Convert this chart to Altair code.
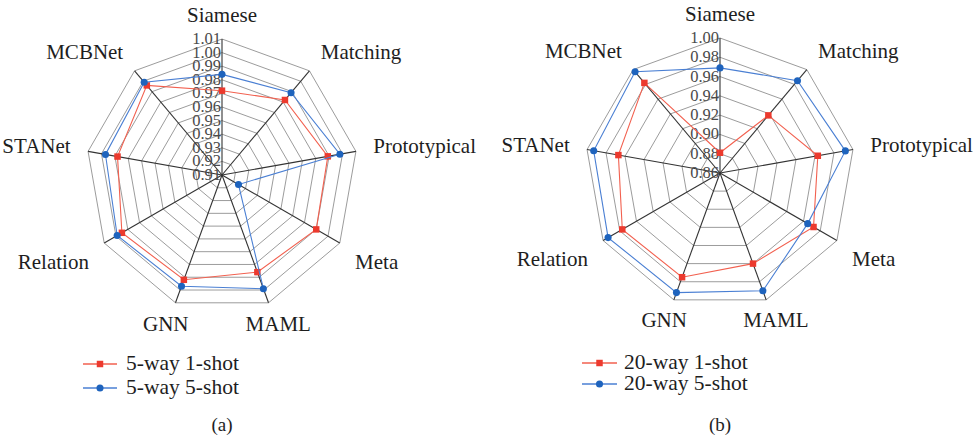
import altair as alt
import pandas as pd

categories = ["Siamese", "Matching", "Prototypical", "Meta", "MAML",
              "GNN", "Relation", "STANet", "MCBNet"]

# (a) 5-way accuracy
a_series = ["5-way 1-shot", "5-way 5-shot"]
a_1shot = [0.972, 0.982, 0.989, 0.990, 0.986, 0.992, 0.995, 0.988, 0.996]
a_5shot = [0.984, 0.989, 0.998, 0.924, 0.999, 0.997, 0.999, 0.997, 0.999]
a_ticks = [0.91, 0.92, 0.93, 0.94, 0.95, 0.96, 0.97, 0.98, 0.99, 1.00, 1.01]

# (b) 20-way accuracy
b_series = ["20-way 1-shot", "20-way 5-shot"]
b_1shot = [0.881, 0.938, 0.963, 0.972, 0.960, 0.975, 0.977, 0.967, 0.982]
b_5shot = [0.969, 0.985, 0.992, 0.965, 0.990, 0.992, 0.994, 0.993, 0.997]
b_ticks = [0.86, 0.88, 0.90, 0.92, 0.94, 0.96, 0.98, 1.00]

FONT = "'Liberation Serif', 'Times New Roman', serif"
RED, RED_LINE = "#EC3A2E", "#F2604F"
BLUE, BLUE_LINE = "#1E63BD", "#4A7FD3"
N = len(categories)


def polar(chart, lo, hi):
    """Turn (idx, value) into x/y in units of the outer ring."""
    return chart.transform_calculate(
        ang=f"datum.idx * 2 * PI / {N}",
        r=f"(datum.value - {lo}) / ({hi} - {lo})",
    ).transform_calculate(
        px="datum.r * sin(datum.ang)",
        py="datum.r * cos(datum.ang)",
    )


def radar(ticks, s1, s2, names, caption, cx, cy, R, leg):
    W, H = 490, 443
    lo, hi = ticks[0], ticks[-1]
    xs = alt.Scale(domain=[-cx / R, (W - cx) / R], nice=False, zero=False)
    ys = alt.Scale(domain=[-(H - cy) / R, cy / R], nice=False, zero=False)
    X = alt.X("px:Q", scale=xs, axis=None)
    Y = alt.Y("py:Q", scale=ys, axis=None)

    # concentric nonagon rings, one per tick level
    ring_rows = [{"ring": k, "idx": j, "value": ticks[k]}
                 for k in range(1, len(ticks)) for j in range(N + 1)]
    rings = polar(alt.Chart(pd.DataFrame(ring_rows)).mark_line(
        color="#9C9C9C", strokeWidth=1), lo, hi).encode(
        x=X, y=Y, detail="ring:N", order="idx:Q")

    # spokes from the centre to each outer vertex
    spoke_rows = [{"idx": j, "value": hi} for j in range(N)]
    spokes = polar(alt.Chart(pd.DataFrame(spoke_rows)).mark_rule(
        color="#333333", strokeWidth=1.1), lo, hi).transform_calculate(
        zero="0").encode(
        x=alt.X("zero:Q", scale=xs, axis=None),
        y=alt.Y("zero:Q", scale=ys, axis=None),
        x2="px:Q", y2="py:Q")

    # radial tick labels along the first axis
    tick_df = pd.DataFrame({"idx": 0, "value": ticks,
                            "label": [f"{t:.2f}" for t in ticks]})
    tick_text = polar(alt.Chart(tick_df).mark_text(
        align="right", baseline="middle", dx=-1, font=FONT, fontSize=16.5,
        color="#4A4A4A"), lo, hi).encode(x=X, y=Y, text="label:N")

    # category labels around the outside
    cat_df = pd.DataFrame({"idx": range(N), "category": categories})
    cat_layers = []
    for cond, align in [("sin(datum.ang) > 0.2 && cos(datum.ang) > -0.9", "left"),
                        ("sin(datum.ang) < -0.2 && cos(datum.ang) > -0.9", "right"),
                        ("abs(sin(datum.ang)) <= 0.2 || cos(datum.ang) <= -0.9", "center")]:
        layer = alt.Chart(cat_df).transform_calculate(
            ang=f"datum.idx * 2 * PI / {N}"
        ).transform_calculate(
            px="1.13 * sin(datum.ang) + (cos(datum.ang) < -0.9 ? 0.08 * sin(datum.ang) : 0)",
            py="1.17 * cos(datum.ang) + (cos(datum.ang) < -0.3 && cos(datum.ang) > -0.9 ? -0.06 : 0)",
        ).transform_filter(cond).mark_text(
            align=align, baseline="middle", font=FONT, fontSize=21,
            color="#1E1E1E").encode(x=X, y=Y, text="category:N")
        cat_layers.append(layer)

    # the two series
    series_layers = []
    for vals, line_c, mark_c, shape, size in [
            (s1, RED_LINE, RED, "square", 42),
            (s2, BLUE_LINE, BLUE, "circle", 50)]:
        df = pd.DataFrame({"idx": list(range(N)) + [N],
                           "value": vals + [vals[0]]})
        base = polar(alt.Chart(df), lo, hi)
        series_layers.append(base.mark_line(color=line_c, strokeWidth=1.1)
                             .encode(x=X, y=Y, order="idx:Q"))
        series_layers.append(base.transform_filter(f"datum.idx < {N}")
                             .mark_point(shape=shape, filled=True, size=size,
                                         color=mark_c, opacity=1)
                             .encode(x=X, y=Y))

    # legend drawn by hand: a line with the marker in its middle, then the name
    lx0, lx1, ltx, rows = leg
    legend_layers = []
    for name, line_c, mark_c, shape, size, ly in [
            (names[0], RED_LINE, RED, "square", 42, rows[0]),
            (names[1], BLUE_LINE, BLUE, "circle", 50, rows[1])]:
        legend_layers.append(alt.Chart(pd.DataFrame({"n": [name]})).mark_rule(
            color=line_c, strokeWidth=1.3).encode(
            x=alt.value(lx0), x2=alt.value(lx1), y=alt.value(ly)))
        legend_layers.append(alt.Chart(pd.DataFrame({"n": [name]})).mark_point(
            shape=shape, filled=True, size=size, color=mark_c, opacity=1).encode(
            x=alt.value((lx0 + lx1) / 2), y=alt.value(ly)))
        legend_layers.append(alt.Chart(pd.DataFrame({"n": [name]})).mark_text(
            align="left", baseline="middle", font=FONT, fontSize=21.5,
            color="#1E1E1E").encode(
            x=alt.value(ltx), y=alt.value(ly), text="n:N"))

    cap = alt.Chart(pd.DataFrame({"c": [caption]})).mark_text(
        align="center", baseline="middle", font=FONT, fontSize=19,
        color="#1E1E1E").encode(x=alt.value(cx), y=alt.value(425), text="c:N")

    return alt.layer(rings, spokes, tick_text, *cat_layers, *series_layers,
                     *legend_layers, cap).properties(width=W, height=H)


left = radar(a_ticks, a_1shot, a_5shot, a_series, "(a)", 222, 175, 136,
             (83, 117, 126, (364, 388)))
right = radar(b_ticks, b_1shot, b_5shot, b_series, "(b)", 230, 173, 135,
              (92, 127, 134, (363, 384)))

chart = alt.hconcat(left, right, spacing=0).properties(
    padding=0, background="white"
).configure_view(stroke=None).configure_concat(spacing=0)

chart.save("out.html", embed_options={"renderer": "svg", "actions": False})
